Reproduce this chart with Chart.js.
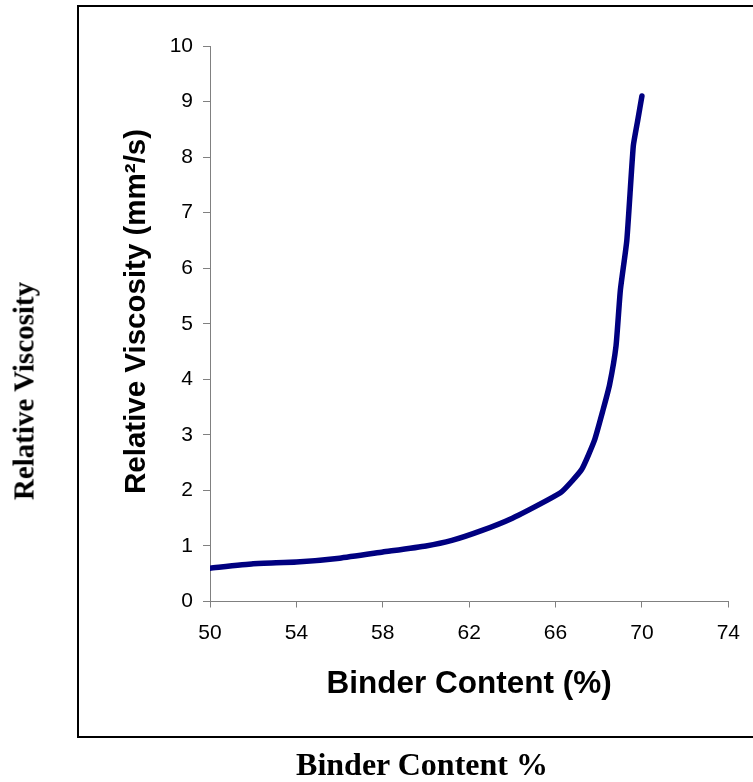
<!DOCTYPE html>
<html>
<head>
<meta charset="utf-8">
<script src="https://cdn.jsdelivr.net/npm/chart.js@4.4.1/dist/chart.umd.min.js"></script>
<style>
  html, body { margin: 0; padding: 0; background: #fff; overflow: hidden; }
  #wrap { position: relative; width: 753px; height: 782px; }
  #grafico { position: absolute; left: 0; top: 0; }
  #marco {
    position: absolute; left: 77px; top: 5px; width: 800px; height: 733px;
    box-sizing: border-box; border: 2px solid #000; pointer-events: none;
  }
  .rotulo {
    position: absolute; font-family: "Liberation Serif", "Times New Roman", serif;
    font-weight: bold; color: #000; line-height: 1; white-space: nowrap;
  }
  #rotuloY { left: 24px; top: 391px; font-size: 29px; transform: translate(-50%, -50%) rotate(-90deg); }
  #rotuloX { left: 422px; top: 748px; font-size: 32px; transform: translateX(-50%); }
</style>
</head>
<body>
<div id="wrap">
  <canvas id="grafico" width="753" height="782"></canvas>
  <div id="marco"></div>
  <div class="rotulo" id="rotuloY">Relative Viscosity</div>
  <div class="rotulo" id="rotuloX">Binder Content %</div>
</div>
<script>
// datos
const contenidoLigante = [50, 52, 54, 56, 58, 60, 61.2, 62.6, 64, 65.6, 66.3, 67.2, 67.8, 68.2, 68.5, 68.8, 69.0, 69.3, 69.6, 69.8, 70];
const viscosidadRelativa = [0.6, 0.68, 0.71, 0.78, 0.89, 1.0, 1.1, 1.28, 1.5, 1.82, 1.98, 2.37, 2.9, 3.45, 3.9, 4.6, 5.6, 6.5, 8.2, 8.65, 9.1];
const ticksX = [50, 54, 58, 62, 66, 70, 74];
const ticksY = [0, 1, 2, 3, 4, 5, 6, 7, 8, 9, 10];

const fuenteSans = '"Liberation Sans", Arial, sans-serif';
const ctx = document.getElementById('grafico').getContext('2d');

new Chart(ctx, {
  type: 'line',
  data: {
    datasets: [{
      data: contenidoLigante.map((x, i) => ({ x: x, y: viscosidadRelativa[i] })),
      borderColor: '#000080',
      borderWidth: 5.5,
      borderCapStyle: 'round',
      borderJoinStyle: 'round',
      pointRadius: 0,
      tension: 0.15,
      fill: false
    }]
  },
  options: {
    responsive: false,
    devicePixelRatio: 1,
    animation: false,
    layout: { padding: { left: 0, right: 23, top: 46, bottom: 0 } },
    plugins: { legend: { display: false }, tooltip: { enabled: false } },
    scales: {
      x: {
        type: 'linear',
        min: 50,
        max: 74,
        afterBuildTicks: scale => { scale.ticks = ticksX.map(v => ({ value: v })); },
        afterFit: scale => { scale.height = 180.5; },
        grid: { drawOnChartArea: false, drawTicks: true, tickLength: 6, color: '#808080' },
        border: { display: true, color: '#808080', width: 1 },
        ticks: { color: '#000', padding: 13, font: { family: fuenteSans, size: 21 } },
        title: {
          display: true,
          text: 'Binder Content (%)',
          color: '#000',
          font: { family: fuenteSans, size: 31.5, weight: 'bold' },
          padding: { top: 0, bottom: 79 }
        }
      },
      y: {
        min: 0,
        max: 10,
        afterBuildTicks: scale => { scale.ticks = ticksY.map(v => ({ value: v })); },
        afterFit: scale => { scale.width = 210; },
        grid: { drawOnChartArea: false, drawTicks: true, tickLength: 7, color: '#808080' },
        border: { display: true, color: '#808080', width: 1 },
        ticks: { color: '#000', padding: 10, font: { family: fuenteSans, size: 21 } },
        title: {
          display: true,
          text: '   Relative Viscosity (mm²/s)',
          color: '#000',
          font: { family: fuenteSans, size: 29.5, weight: 'bold' },
          padding: { top: 119, bottom: 0 }
        }
      }
    }
  }
});
</script>
</body>
</html>
